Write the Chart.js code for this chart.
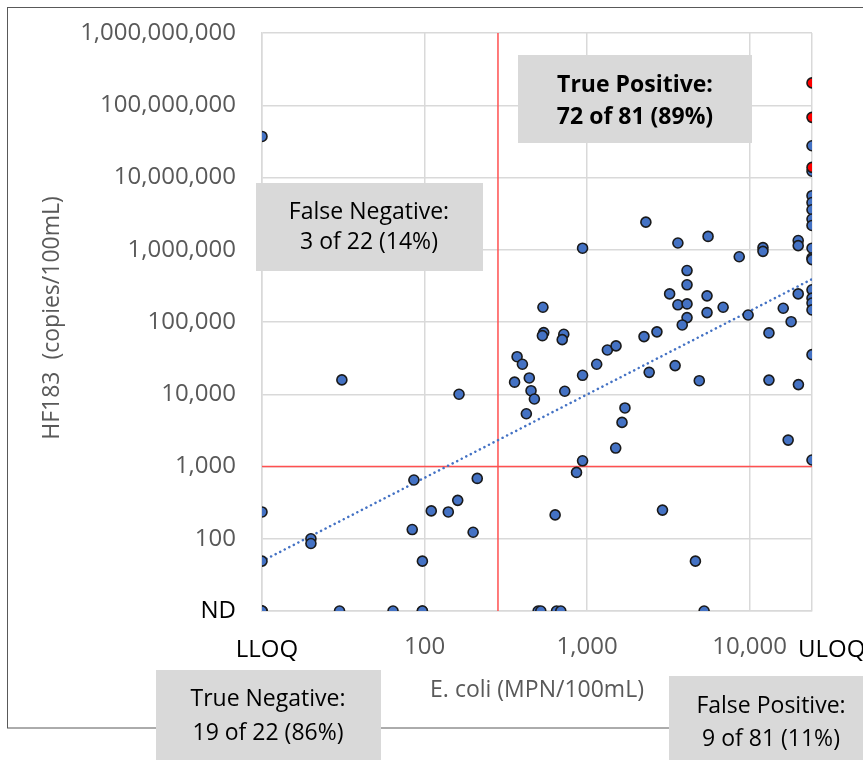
<!DOCTYPE html>
<html>
<head>
<meta charset="utf-8">
<script src="https://cdn.jsdelivr.net/npm/chart.js@4.4.1/dist/chart.umd.min.js"></script>
<style>
  html, body { margin: 0; padding: 0; background: #fff; }
  #wrap { position: relative; width: 863px; height: 760px; }
</style>
</head>
<body>
<div id="wrap"><canvas id="chart"></canvas></div>
<script>
const LLOQ = 10;
const ULOQ = 24196;
const ND = 10;

// E. coli (MPN/100mL) and HF183 (copies/100mL), one pair per sample
const ecoli = [
  LLOQ, LLOQ, LLOQ, LLOQ, LLOQ, LLOQ,
  20, 20, 30, 31, 64, 86, 84, 97, 97, 97, 110, 140, 160, 163, 199, 211,
  ULOQ, ULOQ, ULOQ, ULOQ, ULOQ, ULOQ, ULOQ, ULOQ,
  ULOQ, ULOQ, ULOQ, ULOQ, ULOQ, ULOQ, ULOQ, ULOQ,
  938, 535, 19900, 19900, 12080, 12080, 8630, 5550, 3620, 2300,
  4120, 4120, 3220, 3620, 4120, 5470, 5470, 6870, 9790, 16100,
  18000, 19900, 4120, 3850, 2690, 13150, 2240, 2410, 3480, 4900,
  13150, 19960, 1710, 1640, 17260, 2910, 4640, 5250,
  541, 531, 719, 703, 371, 400, 358, 441, 452, 474, 423, 729,
  938, 1146, 1333, 1507, 1500, 938, 861, 636,
  500, 519, 649, 689
];
const hf183 = [
  37000000, 235, 49, ND, ND, ND,
  100, 86, ND, 15800, ND, 650, 134, 49, ND, ND, 243, 235, 340, 10000, 123, 684,
  27500000, 12200000, 5600000, 4500000, 3580000, 2660000, 2170000, 1050000,
  770000, 730000, 279000, 214000, 183000, 147000, 35300, 1230,
  1050000, 160000, 1340000, 1140000, 1070000, 950000, 800000, 1530000, 1240000, 2410000,
  515000, 327000, 245000, 173000, 178000, 230000, 135000, 160000, 125000, 155000,
  101000, 245000, 115000, 91000, 73000, 70600, 62800, 20100, 24900, 15400,
  15700, 13600, 6460, 4080, 2320, 249, 49, ND,
  71300, 64700, 67700, 57000, 33100, 26000, 14700, 16800, 11200, 8590, 5370, 11000,
  18300, 26000, 41000, 46700, 1800, 1200, 828, 214,
  ND, ND, ND, ND
];

// samples above the top of the highlighted range
const exceedEcoli = [ULOQ, ULOQ, ULOQ];
const exceedHF183 = [204000000, 68000000, 13800000];

// power trendline end points
const trendEcoli = [LLOQ, ULOQ];
const trendHF183 = [49, 392000];

const ecoliThreshold = 283;
const hf183Threshold = 1000;

const xTickValues = [LLOQ, 100, 1000, 10000, ULOQ];
const xTickLabels = ['LLOQ', '100', '1,000', '10,000', 'ULOQ'];
const yTickValues = [10, 100, 1000, 10000, 100000, 1000000, 10000000, 100000000, 1000000000];
const yTickLabels = ['ND', '100', '1,000', '10,000', '100,000', '1,000,000', '10,000,000', '100,000,000', '1,000,000,000'];

const xTitle = 'E. coli (MPN/100mL)';
const yTitle = 'HF183  (copies/100mL)';
const boxTitles = ['True Positive:', 'False Negative:', 'True Negative:', 'False Positive:'];
const boxCounts = ['72 of 81 (89%)', '3 of 22 (14%)', '19 of 22 (86%)', '9 of 81 (11%)'];

const FONT = "'Open Sans', 'Noto Sans', sans-serif";
const GREY = '#595959';

const toPoints = (xs, ys) => xs.map((x, i) => ({ x: x, y: ys[i] }));

// grey call-out boxes: [left, top, width, height, centerX, baseline1, baseline2, bold]
const boxLayout = [
  [518, 55, 234, 88, 635, 92, 124, true],
  [256, 183, 227, 88, 369, 219, 249, false],
  [156, 670, 225, 95, 268, 706, 740, false],
  [669, 676, 210, 90, 771, 713, 746, false]
];

const annotations = {
  id: 'annotations',
  beforeDraw(chart) {
    const ctx = chart.ctx;
    ctx.save();
    ctx.strokeStyle = GREY;
    ctx.lineWidth = 1;
    ctx.strokeRect(7.5, 7.5, 900, 720.5);
    ctx.restore();
  },
  afterDraw(chart) {
    const { ctx, chartArea, scales } = chart;
    ctx.save();

    // axis titles
    ctx.fillStyle = GREY;
    ctx.font = '23px ' + FONT;
    ctx.textAlign = 'center';
    ctx.textBaseline = 'alphabetic';
    ctx.fillText(xTitle, (chartArea.left + chartArea.right) / 2, 697);
    ctx.save();
    ctx.translate(59, (chartArea.top + chartArea.bottom) / 2 - 4);
    ctx.rotate(-Math.PI / 2);
    ctx.fillText(yTitle, 0, 0);
    ctx.restore();

    // LLOQ / ULOQ labels
    ctx.fillStyle = '#000';
    ctx.font = '24px ' + FONT;
    ctx.fillText(xTickLabels[0], scales.x.getPixelForValue(LLOQ) + 5, 657);
    ctx.textAlign = 'left';
    ctx.fillText(xTickLabels[4], scales.x.getPixelForValue(ULOQ) - 14, 657);

    // call-out boxes
    ctx.textAlign = 'center';
    boxLayout.forEach((b, i) => {
      ctx.fillStyle = '#d9d9d9';
      ctx.fillRect(b[0], b[1], b[2], b[3]);
      ctx.fillStyle = '#000';
      ctx.font = (b[7] ? 'bold ' : '') + '23px ' + FONT;
      ctx.fillText(boxTitles[i], b[4], b[5]);
      ctx.fillText(boxCounts[i], b[4], b[6]);
    });
    ctx.restore();
  }
};

const ctx = document.getElementById('chart').getContext('2d');
new Chart(ctx, {
  type: 'scatter',
  data: {
    datasets: [
      {
        label: 'Exceed',
        data: toPoints(exceedEcoli, exceedHF183),
        backgroundColor: '#FF0000',
        borderColor: '#1a1a1a',
        borderWidth: 1.6,
        pointRadius: 5
      },
      {
        label: 'Samples',
        data: toPoints(ecoli, hf183),
        backgroundColor: '#4472C4',
        borderColor: '#1a1a1a',
        borderWidth: 1.6,
        pointRadius: 5
      },
      {
        label: 'Trend',
        data: toPoints(trendEcoli, trendHF183),
        showLine: true,
        borderColor: '#4472C4',
        borderWidth: 2.5,
        borderDash: [0.1, 5],
        borderCapStyle: 'round',
        pointRadius: 0
      },
      {
        label: 'HF183 threshold',
        data: toPoints([LLOQ, ULOQ], [hf183Threshold, hf183Threshold]),
        showLine: true,
        borderColor: '#FF5050',
        borderWidth: 1.5,
        pointRadius: 0
      },
      {
        label: 'E. coli threshold',
        data: toPoints([ecoliThreshold, ecoliThreshold], [ND, yTickValues[yTickValues.length - 1]]),
        showLine: true,
        borderColor: '#FF5050',
        borderWidth: 1.5,
        pointRadius: 0
      }
    ]
  },
  options: {
    responsive: true,
    maintainAspectRatio: false,
    animation: false,
    layout: { autoPadding: false, padding: { left: 0, top: 33, right: 51, bottom: 0 } },
    plugins: { legend: { display: false }, tooltip: { enabled: false } },
    scales: {
      x: {
        type: 'logarithmic',
        min: LLOQ,
        max: ULOQ,
        afterBuildTicks: s => { s.ticks = xTickValues.map(v => ({ value: v })); },
        afterFit: s => { s.height = 149; s.paddingLeft = 0; s.paddingRight = 0; },
        ticks: {
          callback: (v, i) => (i === 0 || i === xTickValues.length - 1) ? '' : xTickLabels[i],
          color: GREY,
          font: { family: FONT, size: 24 },
          padding: 22,
          maxRotation: 0,
          autoSkip: false
        },
        grid: { color: '#d9d9d9', lineWidth: 1.5, drawTicks: false },
        border: { color: '#d9d9d9', width: 1.5 }
      },
      y: {
        type: 'logarithmic',
        min: yTickValues[0],
        max: yTickValues[yTickValues.length - 1],
        afterBuildTicks: s => { s.ticks = yTickValues.map(v => ({ value: v })); },
        afterFit: s => { s.width = 262; s.paddingTop = 0; s.paddingBottom = 0; },
        ticks: {
          callback: (v, i) => yTickLabels[i],
          color: c => c.index === 0 ? '#000' : GREY,
          font: { family: FONT, size: 24 },
          padding: 26,
          autoSkip: false
        },
        grid: { color: '#d9d9d9', lineWidth: 1.5, drawTicks: false },
        border: { color: '#d9d9d9', width: 1.5 }
      }
    }
  },
  plugins: [annotations]
});
</script>
</body>
</html>
